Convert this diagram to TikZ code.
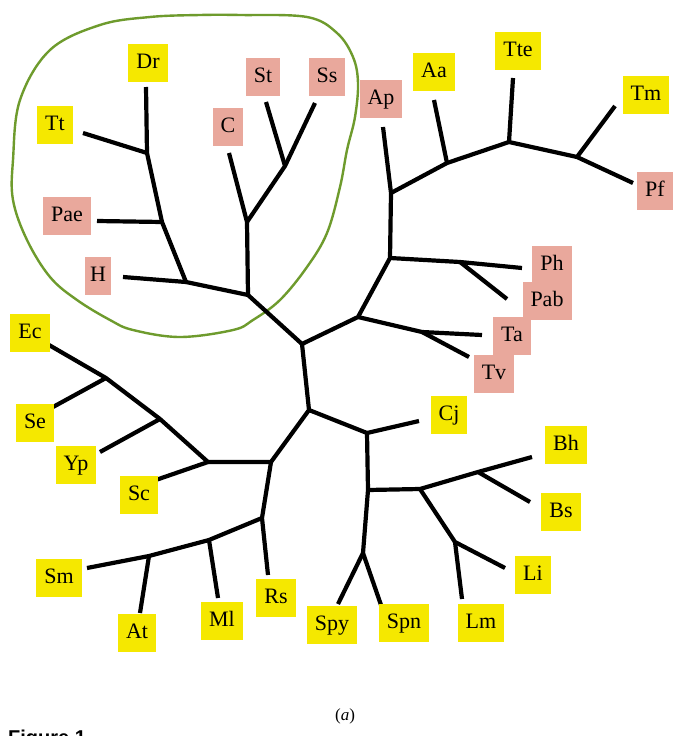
\documentclass[tikz,border=0pt]{standalone}
\usepackage{fontspec}
\setmainfont{Liberation Serif}
\newfontfamily\figfont{Liberation Sans}
\definecolor{ylw}{RGB}{245,232,0}
\definecolor{pnk}{RGB}{233,168,156}
\definecolor{grn}{RGB}{110,155,45}
\begin{document}
\begin{tikzpicture}[x=1pt,y=-1pt,
  lbl/.style={inner xsep=8pt, inner ysep=0pt, minimum height=38pt, text height=14.5pt, text depth=4pt, font=\fontsize{22}{22}\selectfont},
  ybox/.style={lbl, fill=ylw},
  pbox/.style={lbl, fill=pnk},
  br/.style={line width=4.2pt, black, line join=round},
  blob/.style={draw=grn, line width=2.4pt}]
\clip (0,0) rectangle (675,736);
\fill[white] (0,0) rectangle (675,736);

% clade outline
\draw[blob] plot[smooth cycle, tension=0.6] coordinates {
  (150,17) (200,15) (240,15) (307,17) (337,33) (353,57) (358,83) (355,117)
  (347,150) (340,187) (327,233) (307,267) (280,300) (253,320) (233,330)
  (180,337) (133,330) (110,320) (77,300) (50,277) (27,240) (13,200) (13,160) (20,100) (50,50) (100,25)};

% junctions
\coordinate (jA) at (302,344);
\coordinate (jTop) at (248,295);
\coordinate (jH) at (186,282);
\coordinate (jPae) at (162,222);
\coordinate (jTt) at (147,153);
\coordinate (jC) at (247,222);
\coordinate (jSt) at (285,166);
\coordinate (jR1) at (358,317);
\coordinate (jR2) at (390,258);
\coordinate (jAp) at (391,193);
\coordinate (jAa) at (447,163);
\coordinate (jTte) at (509,142);
\coordinate (jTm) at (577,157);
\coordinate (jPh) at (460,262);
\coordinate (jTa) at (422,332);
\coordinate (jB) at (309,410);
\coordinate (jL1) at (271,462);
\coordinate (jSc) at (208,462);
\coordinate (jYp) at (160,419);
\coordinate (jSe) at (106,378);
\coordinate (jRs) at (262,518);
\coordinate (jMl) at (209,540);
\coordinate (jAt) at (149,556);
\coordinate (jCj) at (367,433);
\coordinate (jBL) at (368,490);
\coordinate (jBh) at (420,489);
\coordinate (jBs) at (478,472);
\coordinate (jLi) at (455,542);
\coordinate (jSp) at (363,553);

% leaf tips
\coordinate (tDr) at (146,87);
\coordinate (tTt) at (83,133);
\coordinate (tPae) at (97,221);
\coordinate (tH) at (123,277);
\coordinate (tC) at (229,153);
\coordinate (tSt) at (266,102);
\coordinate (tSs) at (315,103);
\coordinate (tAp) at (383,127);
\coordinate (tAa) at (434,100);
\coordinate (tTte) at (513,78);
\coordinate (tTm) at (615,106);
\coordinate (tPf) at (633,183);
\coordinate (tPh) at (522,268);
\coordinate (tPab) at (507,299);
\coordinate (tTa) at (482,335);
\coordinate (tTv) at (469,357);
\coordinate (tEc) at (49,345);
\coordinate (tSe) at (53,407);
\coordinate (tYp) at (100,452);
\coordinate (tSc) at (150,482);
\coordinate (tSm) at (87,568);
\coordinate (tAt) at (140,613);
\coordinate (tMl) at (218,598);
\coordinate (tRs) at (268,575);
\coordinate (tCj) at (419,421);
\coordinate (tBh) at (532,457);
\coordinate (tBs) at (530,502);
\coordinate (tLi) at (505,568);
\coordinate (tLm) at (462,599);
\coordinate (tSpy) at (338,604);
\coordinate (tSpn) at (381,605);

% branches
\draw[br] (tDr) -- (jTt) -- (jPae) -- (jH) -- (jTop) -- (jA);
\draw[br] (tTt) -- (jTt);
\draw[br] (tPae) -- (jPae);
\draw[br] (tH) -- (jH);
\draw[br] (tC) -- (jC) -- (jTop);
\draw[br] (tSt) -- (jSt) -- (jC);
\draw[br] (tSs) -- (jSt);
\draw[br] (jA) -- (jR1) -- (jR2) -- (jAp) -- (tAp);
\draw[br] (jAp) -- (jAa) -- (jTte) -- (jTm) -- (tPf);
\draw[br] (jAa) -- (tAa);
\draw[br] (jTte) -- (tTte);
\draw[br] (jTm) -- (tTm);
\draw[br] (jR2) -- (jPh) -- (tPh);
\draw[br] (jPh) -- (tPab);
\draw[br] (jR1) -- (jTa) -- (tTa);
\draw[br] (jTa) -- (tTv);
\draw[br] (jA) -- (jB) -- (jL1) -- (jSc) -- (jYp) -- (jSe) -- (tEc);
\draw[br] (jSe) -- (tSe);
\draw[br] (jYp) -- (tYp);
\draw[br] (jSc) -- (tSc);
\draw[br] (jL1) -- (jRs) -- (tRs);
\draw[br] (jRs) -- (jMl) -- (jAt) -- (tSm);
\draw[br] (jMl) -- (tMl);
\draw[br] (jAt) -- (tAt);
\draw[br] (jB) -- (jCj) -- (tCj);
\draw[br] (jCj) -- (jBL) -- (jSp) -- (tSpy);
\draw[br] (jSp) -- (tSpn);
\draw[br] (jBL) -- (jBh) -- (jBs) -- (tBh);
\draw[br] (jBs) -- (tBs);
\draw[br] (jBh) -- (jLi) -- (tLi);
\draw[br] (jLi) -- (tLm);

% labels
\node[ybox] (Dr) at (148,63) {Dr};
\node[ybox] (Tt) at (55,125) {Tt};
\node[pbox] (St) at (263,77) {St};
\node[pbox] (Ss) at (327,77) {Ss};
\node[pbox] (C) at (228,127) {C};
\node[pbox] (Pae) at (67,216) {Pae};
\node[pbox, inner xsep=5pt] (H) at (98,276) {H};
\node[ybox] (Ec) at (30,333) {Ec};
\node[ybox] (Se) at (35,423) {Se};
\node[ybox] (Yp) at (76,465) {Yp};
\node[ybox] (Sc) at (139,495) {Sc};
\node[ybox] (Sm) at (59,578) {Sm};
\node[ybox] (At) at (137,633) {At};
\node[ybox] (Ml) at (222,621) {Ml};
\node[ybox] (Rs) at (276,598) {Rs};
\node[ybox] (Spy) at (332,625) {Spy};
\node[ybox] (Spn) at (404,623) {Spn};
\node[ybox] (Lm) at (481,623) {Lm};
\node[ybox] (Li) at (533,575) {Li};
\node[ybox] (Bs) at (561,512) {Bs};
\node[ybox] (Bh) at (566,445) {Bh};
\node[ybox] (Cj) at (449,415) {Cj};
\node[pbox] (Ap) at (381,99) {Ap};
\node[ybox] (Aa) at (434,72) {Aa};
\node[ybox] (Tte) at (518,51) {Tte};
\node[ybox] (Tm) at (646,95) {Tm};
\node[pbox] (Pf) at (655,191) {Pf};
\node[pbox] (Pab) at (547,301) {Pab};
\node[pbox] (Ph) at (552,265) {Ph};
\node[pbox] (Tv) at (494,374) {Tv};
\node[pbox] (Ta) at (512,336) {Ta};

% caption
\node (cap) at (345,716) {\fontsize{17}{17}\selectfont(\textit{a})};
\node[anchor=base west, inner sep=0pt] (fig) at (8,744) {\figfont\bfseries\fontsize{20}{20}\selectfont Figure 1};
\end{tikzpicture}
\end{document}
